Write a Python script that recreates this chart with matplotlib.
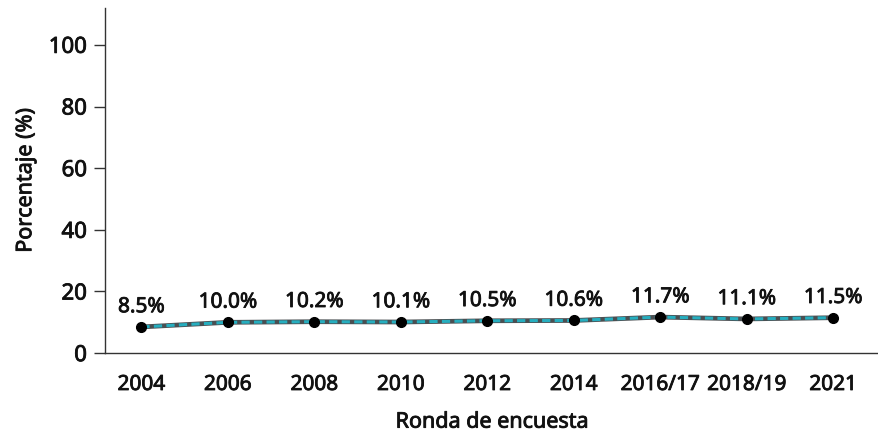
import matplotlib.pyplot as plt
import matplotlib.patheffects as pe

rondas = ['2004', '2006', '2008', '2010', '2012', '2014', '2016/17', '2018/19', '2021']
porcentaje = [8.5, 10.0, 10.2, 10.1, 10.5, 10.6, 11.7, 11.1, 11.5]

plt.rcParams['font.family'] = ['Noto Sans', 'DejaVu Sans']
txt_color = '#111111'
# thicken the regular face a little to look semibold
semi = [pe.withStroke(linewidth=0.6, foreground=txt_color)]

fig = plt.figure(figsize=(8.79, 4.36), dpi=100)
ax = fig.add_axes([0.1195, 0.19, 0.8805, 0.792])

x = list(range(len(rondas)))
# grey base line with teal dashes on top
ax.plot(x, porcentaje, color='#4a4f52', lw=3.4, solid_capstyle='butt', zorder=2)
ax.plot(x, porcentaje, color='#26aebf', lw=2.2, dashes=(2.7, 1.4), zorder=3)
ax.plot(x, porcentaje, 'o', color='black', ms=7, zorder=4)

for xi, v in zip(x, porcentaje):
    ax.annotate(f'{v:.1f}%', (xi, v), xytext=(0, 7), textcoords='offset points',
                ha='center', va='bottom', fontsize=15, color=txt_color,
                path_effects=semi)

ax.set_xlim(-0.42, 8.53)
ax.set_ylim(0, 112)
ax.set_yticks([0, 20, 40, 60, 80, 100])
ax.set_xticks(x)
ax.set_xticklabels(rondas)
ax.tick_params(axis='x', length=0, pad=15, labelsize=15, labelcolor=txt_color)
ax.tick_params(axis='y', length=8, width=1, labelsize=16, pad=5, color='#333333',
               labelcolor=txt_color)
for lab in ax.get_xticklabels() + ax.get_yticklabels():
    lab.set_path_effects(semi)

ax.set_ylabel('Porcentaje (%)', fontsize=15.5, labelpad=9, color=txt_color,
              path_effects=semi)
ax.set_xlabel('Ronda de encuesta', fontsize=15.5, labelpad=12, color=txt_color,
              path_effects=semi)

for s in ['top', 'right']:
    ax.spines[s].set_visible(False)
for s in ['left', 'bottom']:
    ax.spines[s].set_color('#333333')
    ax.spines[s].set_linewidth(1)

fig.savefig('out.png', dpi=100)
